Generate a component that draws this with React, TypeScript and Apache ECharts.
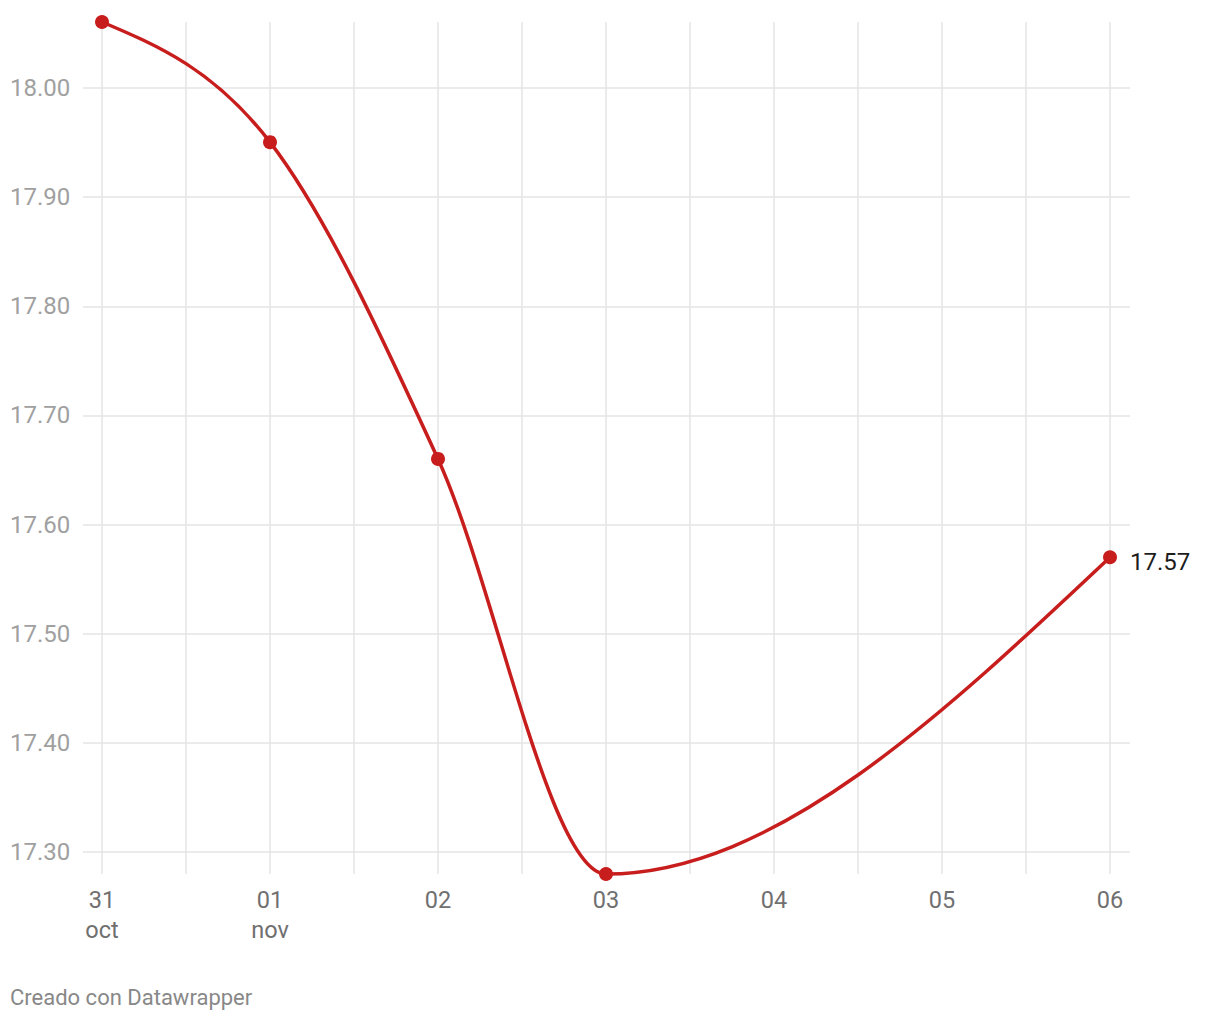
import React, { useEffect, useRef } from 'react';
import * as echarts from 'echarts';

// ---- data ----
const dayIndex = [0, 1, 2, 3, 6]; // 31 oct, 01, 02, 03, 06 nov
const values = [18.06, 17.95, 17.66, 17.28, 17.57];
const xTickLabels = ['31\noct', '01\nnov', '02', '03', '04', '05', '06'];
const yMinTick = 17.3;
const yMaxTick = 18.0;
const yStep = 0.1;
const footerText = 'Creado con Datawrapper';

const RED = '#c71e1d';
const FONT = 'Roboto';

// monotone-x cubic tangents (same as d3.curveMonotoneX)
function monotoneTangents(xs: number[], ys: number[]): number[] {
  const n = xs.length;
  const t = new Array(n).fill(0);
  for (let i = 1; i < n - 1; i++) {
    const h0 = xs[i] - xs[i - 1];
    const h1 = xs[i + 1] - xs[i];
    const s0 = (ys[i] - ys[i - 1]) / h0;
    const s1 = (ys[i + 1] - ys[i]) / h1;
    const p = (s0 * h1 + s1 * h0) / (h0 + h1);
    t[i] = (Math.sign(s0) + Math.sign(s1)) * Math.min(Math.abs(s0), Math.abs(s1), 0.5 * Math.abs(p)) || 0;
  }
  if (n > 2) {
    const h = xs[1] - xs[0];
    t[0] = (3 * (ys[1] - ys[0]) / h - t[1]) / 2;
    const hl = xs[n - 1] - xs[n - 2];
    t[n - 1] = (3 * (ys[n - 1] - ys[n - 2]) / hl - t[n - 2]) / 2;
  } else if (n === 2) {
    t[0] = t[1] = (ys[1] - ys[0]) / (xs[1] - xs[0]);
  }
  return t;
}

const tangents = monotoneTangents(dayIndex, values);

export default function App() {
  const ref = useRef<HTMLDivElement>(null);
  useEffect(() => {
    if (!ref.current) return;
    const chart = echarts.init(ref.current, null, { renderer: 'svg' });
    const pts = dayIndex.map((d, i) => [d, values[i]]);
    const last = pts.length - 1;
    chart.setOption({
      animation: false,
      backgroundColor: '#ffffff',
      grid: [
        { left: 83, right: 90, top: 88, bottom: 168 },
        { left: 102, right: 110, top: 22, bottom: 146 },
      ],
      xAxis: [
        { gridIndex: 0, type: 'value', min: 0, max: 1, show: false },
        {
          gridIndex: 1,
          type: 'value',
          min: 0,
          max: 6,
          interval: 0.5,
          axisLine: { show: false },
          axisTick: { show: false },
          splitLine: { show: true, lineStyle: { color: '#e4e4e4', width: 1.5 } },
          axisLabel: {
            margin: 11,
            color: '#707070',
            fontSize: 23.5,
            fontFamily: FONT,
            lineHeight: 30,
            formatter: (v: number) => (Number.isInteger(v) ? xTickLabels[v] : ''),
          },
        },
      ],
      yAxis: [
        {
          gridIndex: 0,
          type: 'value',
          min: yMinTick,
          max: yMaxTick,
          interval: yStep,
          axisLine: { show: false },
          axisTick: { show: false },
          splitLine: { show: true, lineStyle: { color: '#e4e4e4', width: 1.5 } },
          axisLabel: {
            align: 'left',
            margin: 73,
            color: '#a0a0a0',
            fontSize: 24,
            fontFamily: FONT,
            formatter: (v: number) => v.toFixed(2),
          },
        },
        {
          gridIndex: 1,
          type: 'value',
          min: 17.28,
          max: 18.06,
          show: false,
          splitLine: { show: false },
        },
      ],
      series: [
        {
          type: 'custom',
          xAxisIndex: 1,
          yAxisIndex: 1,
          clip: false,
          z: 3,
          data: pts,
          encode: { x: 0, y: 1 },
          renderItem: (params: any, api: any) => {
            const i = params.dataIndex;
            if (i >= dayIndex.length - 1) return { type: 'group', children: [] };
            const x0 = dayIndex[i], y0 = values[i];
            const x1 = dayIndex[i + 1], y1 = values[i + 1];
            const dx = (x1 - x0) / 3;
            const p0 = api.coord([x0, y0]);
            const c1 = api.coord([x0 + dx, y0 + dx * tangents[i]]);
            const c2 = api.coord([x1 - dx, y1 - dx * tangents[i + 1]]);
            const p1 = api.coord([x1, y1]);
            return {
              type: 'bezierCurve',
              shape: {
                x1: p0[0], y1: p0[1],
                cpx1: c1[0], cpy1: c1[1],
                cpx2: c2[0], cpy2: c2[1],
                x2: p1[0], y2: p1[1],
              },
              style: { stroke: RED, lineWidth: 3.5, fill: null },
            };
          },
        },
        {
          type: 'scatter',
          xAxisIndex: 1,
          yAxisIndex: 1,
          z: 4,
          symbol: 'circle',
          symbolSize: 14,
          itemStyle: { color: RED, opacity: 1 },
          data: pts.map((p, i) =>
            i === last
              ? {
                  value: p,
                  label: {
                    show: true,
                    position: 'right',
                    distance: 13,
                    offset: [0, 5],
                    formatter: values[i].toFixed(2),
                    color: '#1d1d1d',
                    fontSize: 24,
                    fontFamily: FONT,
                  },
                }
              : { value: p }
          ),
        },
      ],
      graphic: [
        {
          type: 'text',
          x: 10,
          y: 997,
          style: {
            text: footerText,
            fill: '#888888',
            fontSize: 22,
            fontFamily: FONT,
            verticalAlign: 'middle',
          },
        },
      ],
    });
    return () => chart.dispose();
  }, []);
  return (
    <div
      ref={ref}
      style={{ position: 'absolute', left: 0, top: 0, width: 1220, height: 1020 }}
    />
  );
}
